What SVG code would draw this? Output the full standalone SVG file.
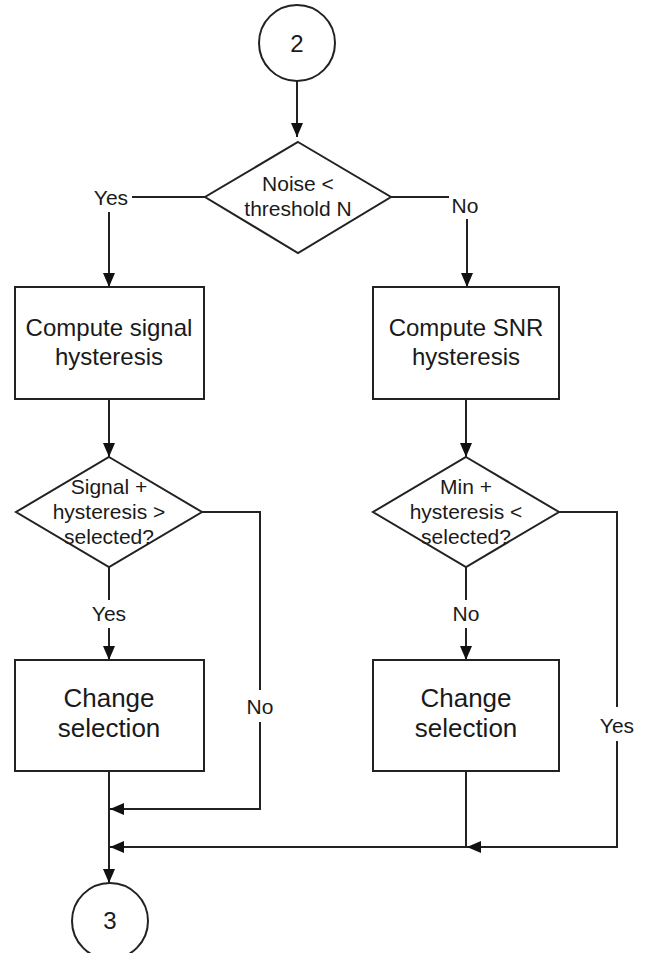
<svg xmlns="http://www.w3.org/2000/svg" width="646" height="953" viewBox="0 0 646 953">
<style>
.shape{fill:#fff;stroke:#222;stroke-width:2}
.ln{fill:none;stroke:#222;stroke-width:2}
text{font-family:"Liberation Sans",Arial,sans-serif;fill:#1a1a1a;text-anchor:middle}
.box{font-size:24px}
.big{font-size:26px}
.dia{font-size:21px}
.lbl{font-size:21px}
.num{font-size:24px}
</style>
<defs>
<marker id="arr" markerUnits="userSpaceOnUse" markerWidth="14" markerHeight="12" refX="14" refY="6" orient="auto">
<path d="M0,0 L14,6 L0,12 z" fill="#111"/>
</marker>
</defs>
<rect width="646" height="953" fill="#fff"/>
<g id="connectors">
<path class="ln" d="M297,81 V137" marker-end="url(#arr)"/>
<path class="ln" d="M205,197 H132"/>
<path class="ln" d="M109,212 V287" marker-end="url(#arr)"/>
<path class="ln" d="M391,197 H449"/>
<path class="ln" d="M467,219 V287" marker-end="url(#arr)"/>
<path class="ln" d="M109,399 V457" marker-end="url(#arr)"/>
<path class="ln" d="M466,399 V457" marker-end="url(#arr)"/>
<path class="ln" d="M109,567 V600"/>
<path class="ln" d="M109,628 V660" marker-end="url(#arr)"/>
<path class="ln" d="M466,567 V600"/>
<path class="ln" d="M466,628 V660" marker-end="url(#arr)"/>
<path class="ln" d="M202,512 H260 V690"/>
<path class="ln" d="M260,722 V809 H110" marker-end="url(#arr)"/>
<path class="ln" d="M559,512 H617 V707"/>
<path class="ln" d="M617,741 V847 H467" marker-end="url(#arr)"/>
<path class="ln" d="M466,771 V847 H110" marker-end="url(#arr)"/>
<path class="ln" d="M109,771 V883" marker-end="url(#arr)"/>
<text class="lbl" x="111" y="205">Yes</text>
<text class="lbl" x="465" y="213">No</text>
<text class="lbl" x="109" y="621">Yes</text>
<text class="lbl" x="466" y="621">No</text>
<text class="lbl" x="260" y="714">No</text>
<text class="lbl" x="617" y="733">Yes</text>
</g>
<g id="start2">
<circle class="shape" cx="297" cy="43" r="38"/>
<text class="num" x="297" y="52">2</text>
</g>
<g id="noise">
<polygon class="shape" points="298,142 391,197 298,253 205,197"/>
<text class="dia" x="298" y="191">Noise &lt;</text>
<text class="dia" x="298" y="216">threshold N</text>
</g>
<g id="signalhyst">
<rect class="shape" x="15" y="287" width="189" height="112"/>
<text class="box" x="109" y="336">Compute signal</text>
<text class="box" x="109" y="365">hysteresis</text>
</g>
<g id="snrhyst">
<rect class="shape" x="373" y="287" width="186" height="112"/>
<text class="box" x="466" y="336">Compute SNR</text>
<text class="box" x="466" y="365">hysteresis</text>
</g>
<g id="signaldec">
<polygon class="shape" points="109,457 202,512 109,567 16,512"/>
<text class="dia" x="109" y="494">Signal +</text>
<text class="dia" x="109" y="519">hysteresis &gt;</text>
<text class="dia" x="109" y="544">selected?</text>
</g>
<g id="mindec">
<polygon class="shape" points="466,457 559,512 466,567 373,512"/>
<text class="dia" x="466" y="494">Min +</text>
<text class="dia" x="466" y="519">hysteresis &lt;</text>
<text class="dia" x="466" y="544">selected?</text>
</g>
<g id="change1">
<rect class="shape" x="15" y="660" width="189" height="111"/>
<text class="big" x="109" y="707">Change</text>
<text class="big" x="109" y="737">selection</text>
</g>
<g id="change2">
<rect class="shape" x="373" y="660" width="186" height="111"/>
<text class="big" x="466" y="707">Change</text>
<text class="big" x="466" y="737">selection</text>
</g>
<g id="end3">
<circle class="shape" cx="110" cy="921" r="38"/>
<text class="num" x="110" y="929">3</text>
</g>
</svg>
